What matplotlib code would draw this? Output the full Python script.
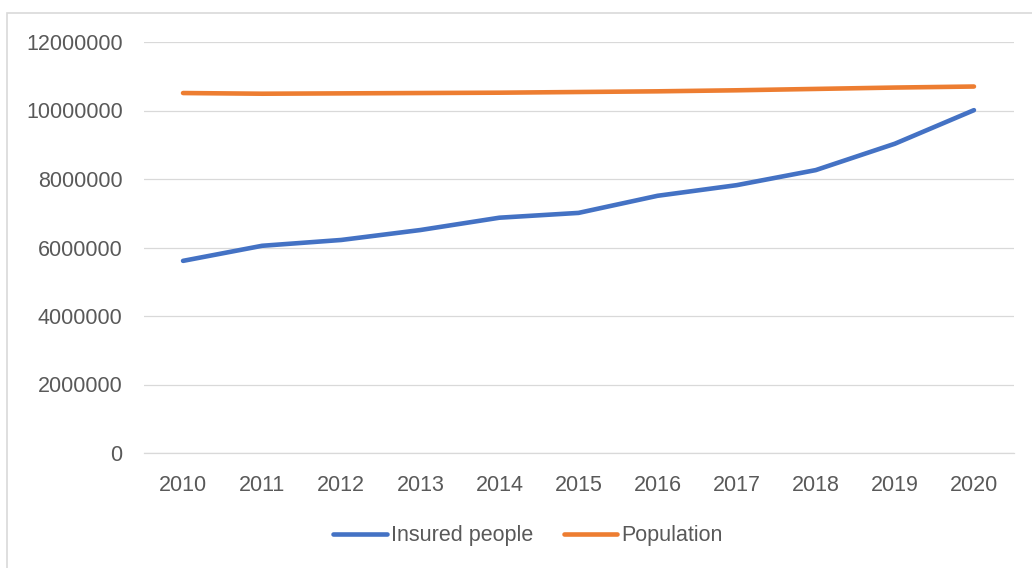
import matplotlib.pyplot as plt
from matplotlib.patches import Rectangle

years = ["2010", "2011", "2012", "2013", "2014", "2015",
         "2016", "2017", "2018", "2019", "2020"]
insured = [5610000, 6050000, 6220000, 6510000, 6870000, 7010000,
           7510000, 7820000, 8260000, 9030000, 10010000]
population = [10510000, 10490000, 10500000, 10510000, 10520000, 10540000,
              10560000, 10590000, 10630000, 10670000, 10700000]
yticks = [0, 2000000, 4000000, 6000000, 8000000, 10000000, 12000000]

W, H = 1032, 568
plt.rcParams['font.family'] = ['Liberation Sans', 'DejaVu Sans']
txt = "#595959"

fig = plt.figure(figsize=(W / 100, H / 100), dpi=100)
ax = fig.add_axes([143.5 / W, 1 - 453 / H, 870 / W, 411 / H])

x = range(len(years))
ax.plot(x, insured, color="#4472C4", lw=3.3, solid_capstyle="round", label="Insured people")
ax.plot(x, population, color="#ED7D31", lw=3.3, solid_capstyle="round", label="Population")

ax.set_xlim(-0.5, len(years) - 0.5)
ax.set_ylim(0, 12000000)
ax.set_yticks(yticks)
ax.set_yticklabels([str(v) for v in yticks])
ax.set_xticks(list(x))
ax.set_xticklabels(years)
ax.grid(axis="y", color="#D9D9D9", lw=0.9)
ax.set_axisbelow(True)
for s in ["top", "right", "left"]:
    ax.spines[s].set_visible(False)
ax.spines["bottom"].set_color("#D9D9D9")
ax.spines["bottom"].set_linewidth(0.9)
ax.tick_params(axis="both", length=0, labelsize=15.5, colors=txt)
ax.tick_params(axis="y", pad=15)
ax.tick_params(axis="x", pad=16)

ax.legend(loc="center", bbox_to_anchor=(528 / W, 1 - 536 / H), bbox_transform=fig.transFigure,
          ncol=2, frameon=False, fontsize=15.5, labelcolor=txt,
          handlelength=2.5, handletextpad=0.2, columnspacing=1.4)

# chart border (cropped at right and bottom)
fig.add_artist(Rectangle((7 / W, -0.1), 1.2, (H - 13) / H + 0.1, transform=fig.transFigure,
                         fill=False, edgecolor="#D9D9D9", lw=1.2))

fig.savefig("out.png", dpi=100)
